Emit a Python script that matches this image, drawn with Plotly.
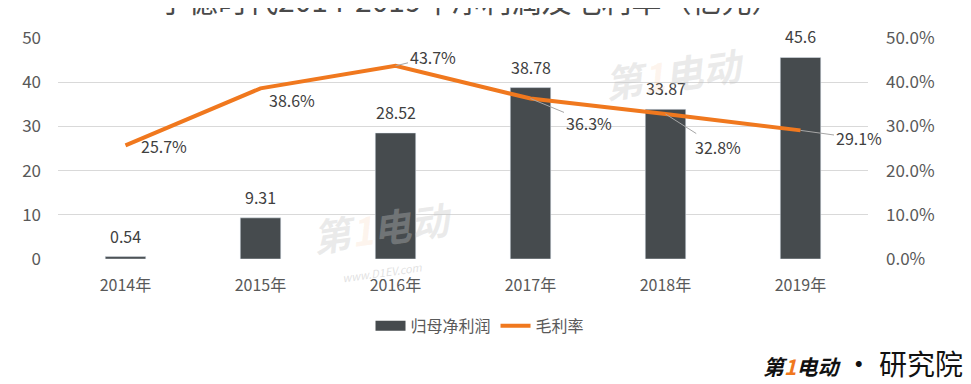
import plotly.graph_objects as go

years = ["2014年", "2015年", "2016年", "2017年", "2018年", "2019年"]
profit = [0.54, 9.31, 28.52, 38.78, 33.87, 45.6]
profit_labels = ["0.54", "9.31", "28.52", "38.78", "33.87", "45.6"]
margin = [0.257, 0.386, 0.437, 0.363, 0.328, 0.291]
margin_labels = ["25.7%", "38.6%", "43.7%", "36.3%", "32.8%", "29.1%"]
left_ticks = [0, 10, 20, 30, 40, 50]
right_ticks = [0, 0.1, 0.2, 0.3, 0.4, 0.5]
right_tick_labels = ["0.0%", "10.0%", "20.0%", "30.0%", "40.0%", "50.0%"]

FONT = "Noto Sans CJK SC"
TXT = "#404040"
TICK = "#595959"
BAR = "#464b4e"
LINE = "#f0781e"

fig = go.Figure()
fig.add_trace(go.Bar(
    x=years, y=profit, name="归母净利润", marker_color=BAR, width=0.3,
    showlegend=False, hoverinfo="skip",
))
fig.add_trace(go.Scatter(
    x=years, y=margin, name="毛利率", mode="lines", yaxis="y2",
    line=dict(color=LINE, width=4), showlegend=False,
))
# legend entries
fig.add_trace(go.Scatter(x=[None], y=[None], mode="lines", name="归母净利润",
                         line=dict(color=BAR, width=10)))
fig.add_trace(go.Scatter(x=[None], y=[None], mode="lines", name="毛利率",
                         line=dict(color=LINE, width=4)))

# bar labels
for yr, v, lab in zip(years, profit, profit_labels):
    fig.add_annotation(x=yr, y=v, xref="x", yref="y", text=lab, showarrow=False,
                       yshift=21, yanchor="middle",
                       font=dict(size=16, color=TXT, family=FONT))

# line labels
offsets = [
    dict(showarrow=False, xshift=38, yshift=-1),
    dict(showarrow=False, xshift=31, yshift=-12),
    dict(showarrow=True, ax=37, ay=-9),
    dict(showarrow=True, ax=58, ay=24),
    dict(showarrow=True, ax=52, ay=33),
    dict(showarrow=True, ax=58, ay=8),
]
for yr, v, lab, off in zip(years, margin, margin_labels, offsets):
    fig.add_annotation(x=yr, y=v, xref="x", yref="y2", text=lab,
                       font=dict(size=16, color=TXT, family=FONT),
                       arrowhead=0, arrowcolor="#a6a6a6", arrowwidth=1,
                       **off)

# clipped title at top
fig.add_annotation(x=0.509, y=1.175, xref="paper", yref="paper",
                   text="宁德时代2014-2019年净利润及毛利率（亿元）",
                   showarrow=False, yanchor="middle",
                   font=dict(size=30, color="#4a4a4a", family=FONT))

# faint watermarks
wm = "<b><i>第<span style='color:rgba(245,190,140,0.45)'>1</span>电动</i></b>"
fig.add_annotation(x=0.40, y=-0.03, xref="paper", yref="paper",
                   text=wm, showarrow=False, textangle=-8,
                   font=dict(size=38, color="rgba(195,195,195,0.35)", family=FONT))
fig.add_annotation(x=0.40, y=-0.13, xref="paper", yref="paper",
                   text="<i>www.D1EV.com</i>", showarrow=False, textangle=-8,
                   font=dict(size=11, color="rgba(195,195,195,0.5)", family=FONT))
fig.add_annotation(x=0.855, y=1.02, xref="paper", yref="paper",
                   text=wm, showarrow=False, textangle=-8,
                   font=dict(size=38, color="rgba(195,195,195,0.35)", family=FONT))

# logo bottom right
fig.add_annotation(x=1.12, y=-0.47, xref="paper", yref="paper",
                   text="<b><i>第<span style='color:#f0781e'>1</span>电动</i></b>"
                        "<span style='font-size:28px'> · 研究院</span>",
                   showarrow=False, xanchor="right", yanchor="middle",
                   font=dict(size=21, color="#111111", family=FONT))

fig.update_layout(
    width=971, height=384,
    margin=dict(l=50, r=111, t=30, b=133),
    paper_bgcolor="white", plot_bgcolor="white",
    font=dict(family=FONT, color=TICK),
    showlegend=True,
    legend=dict(orientation="h", x=0.521, xanchor="center", y=-0.303, yanchor="middle",
                font=dict(size=16, color=TICK, family=FONT),
                itemwidth=30, traceorder="normal"),
    xaxis=dict(showgrid=False, showline=False, ticks="", ticklabelstandoff=15,
               range=[-0.5, 5.5], automargin=False,
               tickfont=dict(size=16, color=TICK, family=FONT)),
    yaxis=dict(range=[0, 50], tickvals=left_ticks, showgrid=True, gridcolor="#d9d9d9",
               gridwidth=1, zeroline=False, showline=False, ticks="", automargin=False,
               tickfont=dict(size=17, color=TICK, family=FONT), ticklabelstandoff=16),
    yaxis2=dict(range=[0, 0.5], overlaying="y", side="right", tickvals=right_ticks,
                ticktext=right_tick_labels, showgrid=False, zeroline=False,
                showline=False, ticks="", automargin=False,
                tickfont=dict(size=17, color=TICK, family=FONT), ticklabelstandoff=17),
)

fig.write_html("out.html")
